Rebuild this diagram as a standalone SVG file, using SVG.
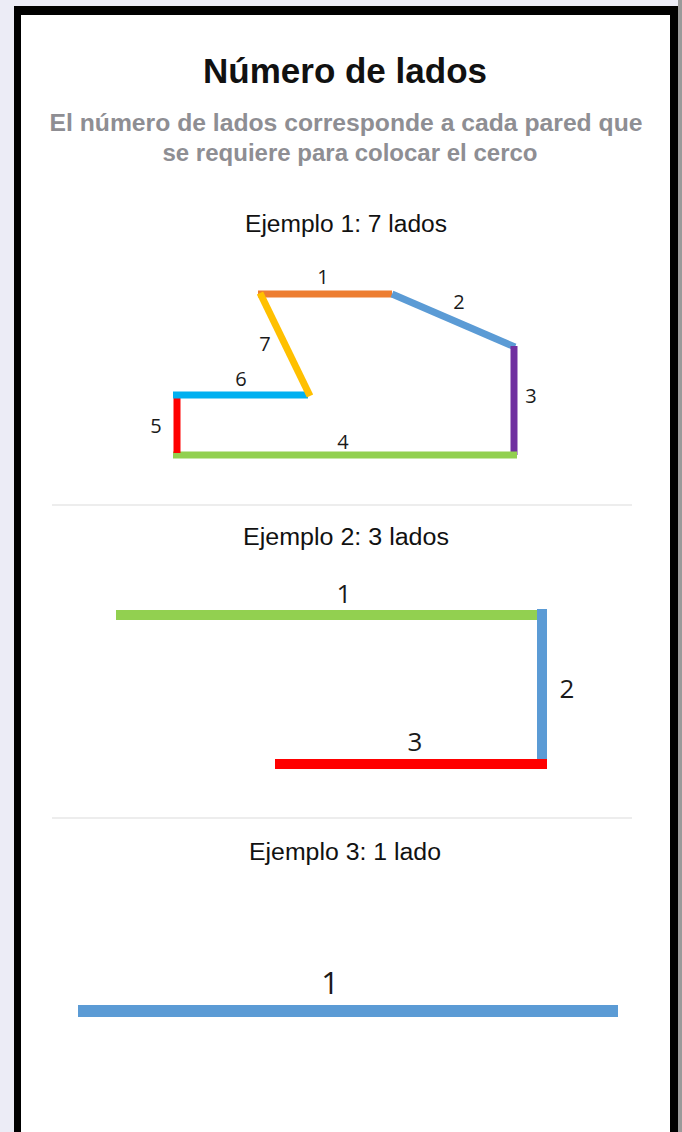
<svg xmlns="http://www.w3.org/2000/svg" width="682" height="1132" viewBox="0 0 682 1132">
<style>
.t{font-family:"Liberation Sans",Arial,sans-serif;text-anchor:middle}
.n{font-family:"Open Sans","Noto Sans",sans-serif;text-anchor:middle;fill:#1a1a1a}
.s{fill:none;stroke-linecap:butt}
</style>
<rect x="0" y="0" width="682" height="1132" fill="#ececf6"/>
<rect x="14" y="6" width="664" height="1130" fill="#000"/>
<rect x="21" y="15" width="649" height="1120" fill="#fff"/>
<rect x="678" y="0" width="4" height="1132" fill="#9a9a9a"/>
<g id="header">
<text class="t" x="345" y="83" font-size="35" font-weight="bold" fill="#111" textLength="284" lengthAdjust="spacingAndGlyphs">Número de lados</text>
<text class="t" x="346" y="131" font-size="23" font-weight="bold" fill="#8e8e93" textLength="593" lengthAdjust="spacingAndGlyphs">El número de lados corresponde a cada pared que</text>
<text class="t" x="350" y="161" font-size="23" font-weight="bold" fill="#8e8e93" textLength="375" lengthAdjust="spacingAndGlyphs">se requiere para colocar el cerco</text>
</g>
<g id="dividers" stroke="#dcdcdc" stroke-width="1.2">
<line x1="52" y1="505" x2="632" y2="505"/>
<line x1="52" y1="818" x2="632" y2="818"/>
</g>
<g id="example1">
<text class="t" x="346" y="232" font-size="23" fill="#111" textLength="202" lengthAdjust="spacingAndGlyphs">Ejemplo 1: 7 lados</text>
<g class="s" stroke-width="7">
<line x1="258" y1="294" x2="392" y2="294" stroke="#ed7d31"/>
<line x1="392" y1="294" x2="515" y2="347" stroke="#5b9bd5"/>
<line x1="514" y1="346" x2="514" y2="455" stroke="#7030a0"/>
<line x1="173" y1="455" x2="517" y2="455" stroke="#92d050"/>
<line x1="177" y1="396" x2="177" y2="453" stroke="#ff0000"/>
<line x1="173" y1="395" x2="308" y2="395" stroke="#00b0f0"/>
<line x1="260" y1="293" x2="310" y2="396" stroke="#ffc000"/>
</g>
<text class="n" x="323" y="284" font-size="20">1</text>
<text class="n" x="459" y="309" font-size="20">2</text>
<text class="n" x="531" y="403" font-size="20">3</text>
<text class="n" x="343" y="449" font-size="20">4</text>
<text class="n" x="156" y="433" font-size="20">5</text>
<text class="n" x="241" y="386" font-size="20">6</text>
<text class="n" x="265" y="351" font-size="20">7</text>
</g>
<g id="example2">
<text class="t" x="346" y="545" font-size="23" fill="#111" textLength="206" lengthAdjust="spacingAndGlyphs">Ejemplo 2: 3 lados</text>
<g class="s" stroke-width="10">
<line x1="116" y1="615" x2="540" y2="615" stroke="#92d050"/>
<line x1="542" y1="609" x2="542" y2="760" stroke="#5b9bd5"/>
<line x1="275" y1="764" x2="547" y2="764" stroke="#ff0000"/>
</g>
<text class="n" x="344" y="603" font-size="26">1</text>
<text class="n" x="567" y="698" font-size="26">2</text>
<text class="n" x="415" y="751" font-size="26">3</text>
</g>
<g id="example3">
<text class="t" x="345" y="860" font-size="23" fill="#111" textLength="192" lengthAdjust="spacingAndGlyphs">Ejemplo 3: 1 lado</text>
<line class="s" x1="78" y1="1011" x2="618" y2="1011" stroke="#5b9bd5" stroke-width="12"/>
<text class="n" x="330" y="994" font-size="31">1</text>
</g>
</svg>
